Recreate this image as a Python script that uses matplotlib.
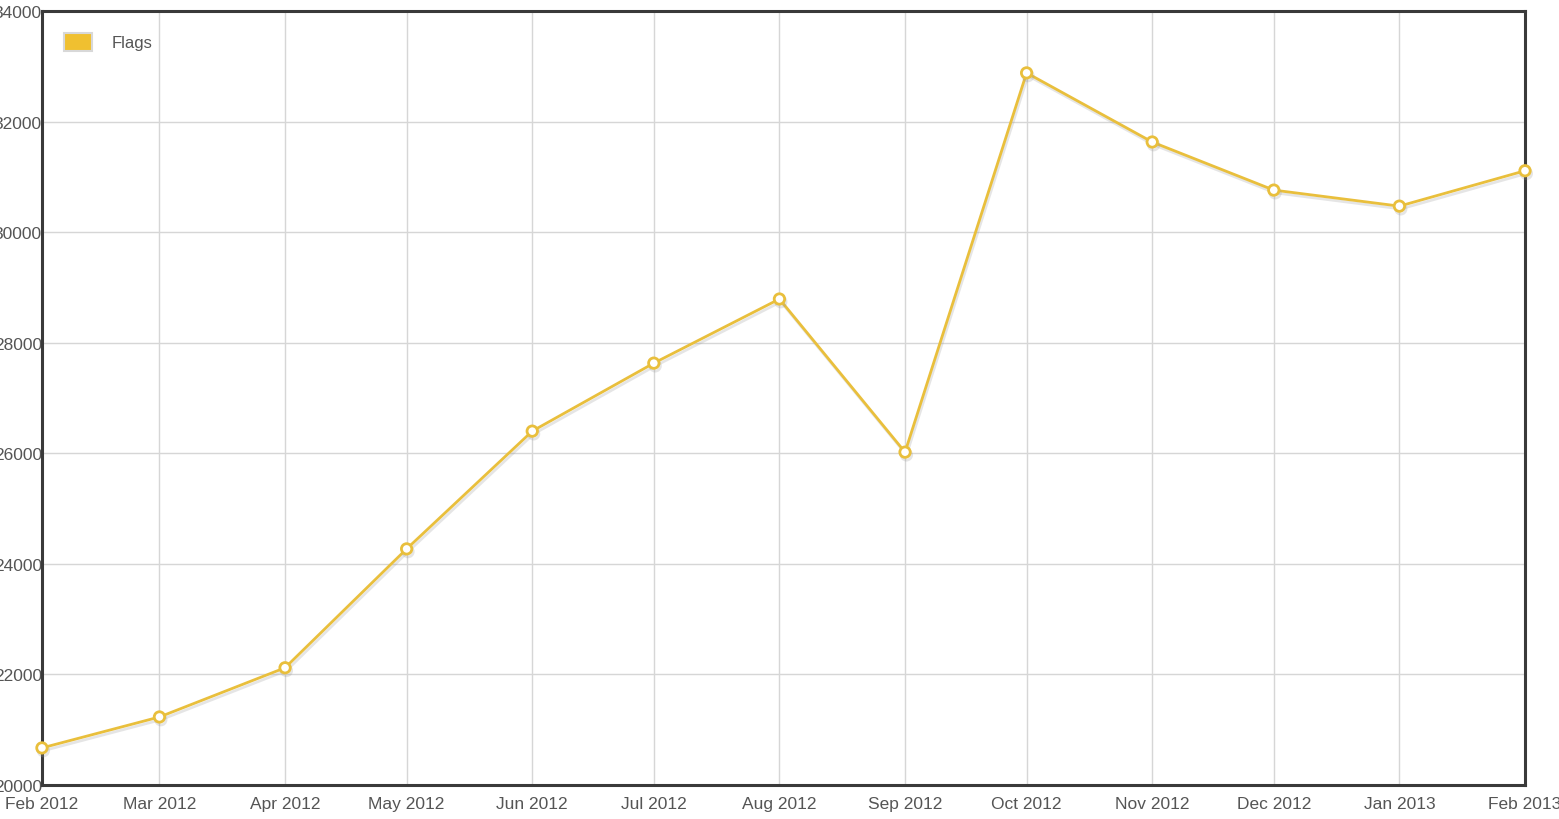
import datetime as dt
import matplotlib
matplotlib.use('Agg')
import matplotlib.pyplot as plt
import matplotlib.dates as mdates
import matplotlib.patheffects as pe
from matplotlib.patches import Patch

months = [dt.date(2012, m, 1) for m in range(2, 13)] + [dt.date(2013, 1, 1), dt.date(2013, 2, 1)]
flags = [20670, 21230, 22120, 24270, 26400, 27630, 28790, 26020, 32880, 31630, 30760, 30470, 31110]
y_ticks = [20000, 22000, 24000, 26000, 28000, 30000, 32000, 34000]

line_color = '#e9bf3c'
plt.rcParams['font.family'] = ['Liberation Sans', 'DejaVu Sans']

fig = plt.figure(figsize=(15.59, 8.20), dpi=100)
fig.patch.set_facecolor('white')
ax = fig.add_axes([0.0269, 0.0415, 0.9513, 0.9439])

ax.plot(months, flags, color=line_color, linewidth=2.0, marker='o', markersize=7.5,
        markerfacecolor='white', markeredgecolor=line_color, markeredgewidth=2,
        clip_on=False, zorder=5,
        path_effects=[pe.SimpleLineShadow(offset=(1, -2), shadow_color='#999999', alpha=0.25),
                      pe.Normal()])

ax.set_xlim(months[0], months[-1])
ax.set_ylim(20000, 34000)
ax.set_xticks(months)
ax.xaxis.set_major_formatter(mdates.DateFormatter('%b %Y'))
ax.set_yticks(y_ticks)
ax.set_yticklabels([str(v) for v in y_ticks])

ax.grid(True, color='#d6d6d6', linewidth=1)
ax.set_axisbelow(True)
ax.tick_params(length=0, labelsize=12.5, labelcolor='#555555')
ax.tick_params(axis='x', pad=8)
ax.tick_params(axis='y', pad=0)

for s in ax.spines.values():
    s.set_color('#3a3a3a')
    s.set_linewidth(2.2)

handle = Patch(facecolor='#f0c030', edgecolor='#d8d8d8', linewidth=1.5)
ax.legend([handle], ['Flags'], loc='upper left', frameon=False, fontsize=12,
          handlelength=1.7, handleheight=1.3, handletextpad=1.2,
          labelcolor='#555555', borderaxespad=0.9)

fig.savefig('out.png', dpi=100)
